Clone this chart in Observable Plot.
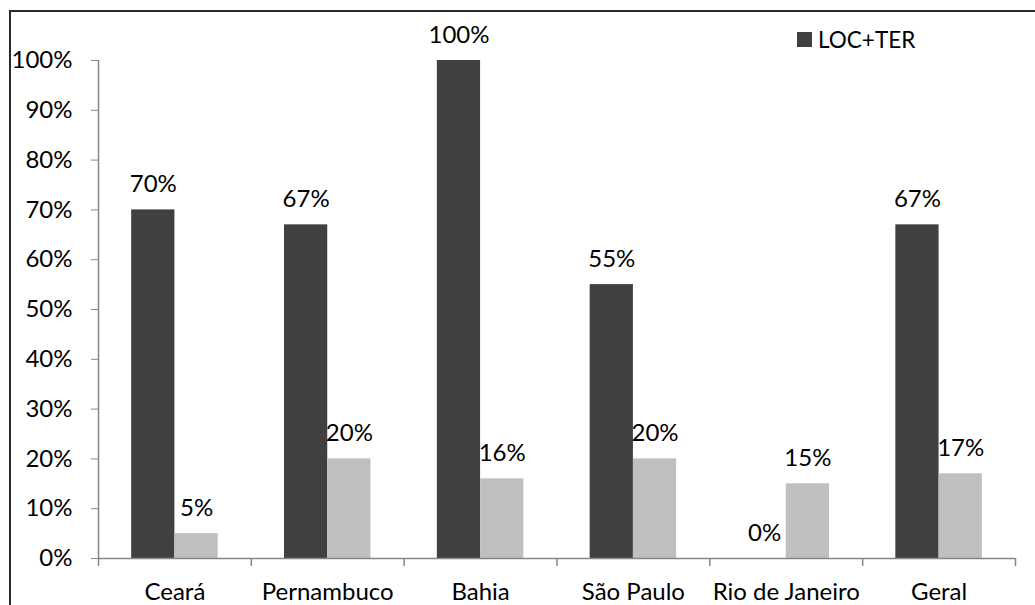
<!DOCTYPE html>
<html>
<head>
<meta charset="utf-8">
<script src="https://cdn.jsdelivr.net/npm/d3@7"></script>
<script src="https://cdn.jsdelivr.net/npm/@observablehq/plot@0.6"></script>
<style>
  html, body { margin: 0; padding: 0; background: #fff; }
  #wrap { position: relative; width: 1035px; height: 605px; overflow: hidden; font-family: Lato, "Open Sans", sans-serif; }
  #border { position: absolute; left: 9px; top: 10px; width: 1100px; height: 700px; border-left: 2px solid #2b2b2b; border-top: 2px solid #2b2b2b; }
  #legend { position: absolute; left: 797px; top: 26px; display: flex; align-items: center; font-size: 22.5px; color: #000; }
  #legend .sw { width: 15px; height: 15px; background: #404040; margin-right: 6px; }
  #chart svg text { fill: #000; }
  #chart { position: absolute; left: 0; top: 0; }
</style>
</head>
<body>
<div id="wrap">
  <div id="chart"></div>
  <div id="border"></div>
  <div id="legend"></div>
</div>
<script>
const categories = ["Ceará", "Pernambuco", "Bahia", "São Paulo", "Rio de Janeiro", "Geral"];
const seriesNames = ["LOC+TER", "Outros"];
const locTer = [0.70, 0.67, 1.00, 0.55, 0.00, 0.67];
const outros = [0.05, 0.20, 0.16, 0.20, 0.15, 0.17];
const yTicks = [0, 0.1, 0.2, 0.3, 0.4, 0.5, 0.6, 0.7, 0.8, 0.9, 1.0];
const colors = ["#404040", "#bfbfbf"];

const W = 1035, H = 605;
const mL = 98, mR = 20, mT = 60, mB = 47;
const bw = (W - mL - mR) / categories.length;
const p = 0.217; // outer padding fraction of each group
const half = bw / 2;
const off = (half - p * bw) / 2; // center offset of each bar from band center

const d1 = categories.map((c, i) => ({cat: c, v: locTer[i], s: seriesNames[0]}));
const d2 = categories.map((c, i) => ({cat: c, v: outros[i], s: seriesNames[1]}));
const fmt = d3.format(".0%");

const chart = Plot.plot({
  width: W,
  height: H,
  marginLeft: mL,
  marginRight: mR,
  marginTop: mT,
  marginBottom: mB,
  style: {fontFamily: "Lato, 'Open Sans', sans-serif", fontSize: "24px", color: "#868686", background: "#fff"},
  x: {domain: categories, padding: 0, round: false, tickSize: 0, tickPadding: 24, label: null},
  y: {domain: [0, 1], ticks: yTicks, tickFormat: fmt, tickSize: 7, tickPadding: 19, label: null},
  marks: [
    Plot.barY(d1, {x: "cat", y: "v", fill: colors[0], insetLeft: p * bw, insetRight: half}),
    Plot.barY(d2, {x: "cat", y: "v", fill: colors[1], insetLeft: half, insetRight: p * bw}),
    Plot.ruleY([0], {stroke: "currentColor", strokeWidth: 1.5}),
    Plot.ruleX([categories[0]], {x: d => d, y1: 1, y2: 0, dx: -half, insetBottom: -8, stroke: "currentColor", strokeWidth: 1.5}),
    Plot.ruleX(categories.slice(1), {x: d => d, y1: 0, y2: 0, dx: -half, insetBottom: -8, stroke: "currentColor", strokeWidth: 1.5}),
    Plot.ruleX([categories[categories.length - 1]], {x: d => d, y1: 0, y2: 0, dx: half, insetBottom: -8, stroke: "currentColor", strokeWidth: 1.5}),
    Plot.text(d1, {x: "cat", y: "v", text: d => fmt(d.v), dx: -off, dy: -18, lineAnchor: "bottom", fill: "#000", fontSize: 24}),
    Plot.text(d2, {x: "cat", y: "v", text: d => fmt(d.v), dx: off, dy: -18, lineAnchor: "bottom", fill: "#000", fontSize: 24})
  ]
});
document.getElementById("chart").appendChild(chart);

const lg = document.getElementById("legend");
const sw = document.createElement("div");
sw.className = "sw";
lg.appendChild(sw);
const lt = document.createElement("span");
lt.textContent = seriesNames[0];
lg.appendChild(lt);
</script>
</body>
</html>
